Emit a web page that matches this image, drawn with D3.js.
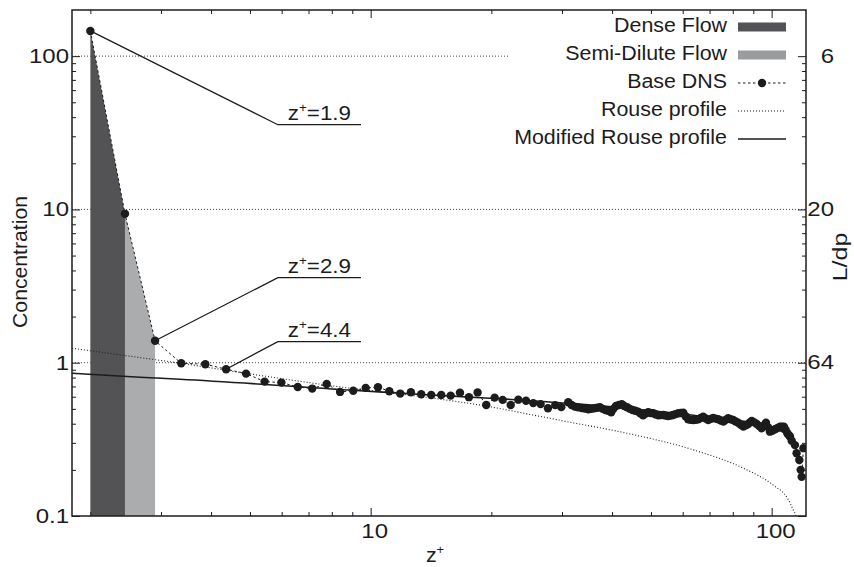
<!DOCTYPE html>
<html>
<head>
<meta charset="utf-8">
<script src="https://cdn.jsdelivr.net/npm/d3@7"></script>
<style>
  body { margin: 0; background: #fff; }
  svg { display: block; font-family: "Liberation Sans", Arial, sans-serif; }
</style>
</head>
<body>
<svg id="chart" width="854" height="567"></svg>
<script>
// Base DNS profile (z+, concentration)
const dnsZ = [2.0, 2.44, 2.9, 3.37, 3.87, 4.36, 4.89, 5.44, 5.99, 6.58, 7.15, 7.77, 8.39, 9.05, 9.72,
  10.43, 11.13, 11.85, 12.6, 13.37, 14.16, 15.0, 15.83, 16.7, 17.58, 18.48, 19.42, 20.38, 21.34, 22.35,
  23.35, 24.4, 25.44, 26.54, 27.68, 28.86, 29.88,
  31.1, 31.7, 32.3, 32.9, 33.6, 34.2, 34.9, 35.5, 36.1, 36.7, 37.3, 37.9, 38.5, 39.1, 39.8,
  40.3, 40.9, 41.6, 42.3, 42.9, 43.6, 44.3, 45.0, 45.7, 46.4, 47.1, 47.8, 48.5, 49.2, 49.9,
  50.7, 51.4, 52.2, 52.9, 53.7, 54.4, 55.2, 56.0, 56.8, 57.6, 58.5, 59.3, 60.2, 61.0, 61.9,
  62.8, 63.8, 64.7, 65.6, 66.5, 67.5, 68.5, 69.5, 70.5, 71.5, 72.5, 73.6, 74.7, 75.8, 76.8,
  77.9, 79.0, 80.2, 81.3, 82.5, 83.7, 85.0, 86.2, 87.4, 88.3, 89.2, 90.5, 91.8, 93.1, 94.4,
  95.6, 96.8, 97.9, 99.0, 100.4, 101.9, 103.4, 104.9, 106.1, 107.3, 108.3, 109.4, 110.3, 111.1, 112.2,
  114.3, 115.4, 117.2, 118.1, 118.8, 120.0]
const dnsC = [146, 9.36, 1.39, 0.992, 0.978, 0.907, 0.849, 0.753, 0.742, 0.695, 0.678, 0.727, 0.645, 0.657, 0.685,
  0.692, 0.652, 0.629, 0.642, 0.623, 0.616, 0.616, 0.61, 0.638, 0.596, 0.64, 0.53, 0.592, 0.572, 0.53,
  0.574, 0.565, 0.545, 0.537, 0.505, 0.529, 0.513,
  0.552, 0.53, 0.517, 0.512, 0.507, 0.503, 0.497, 0.5, 0.505, 0.508, 0.512, 0.5, 0.492, 0.485, 0.475,
  0.5, 0.522, 0.53, 0.536, 0.522, 0.512, 0.5, 0.492, 0.486, 0.48, 0.466, 0.454, 0.466, 0.475, 0.47,
  0.468, 0.46, 0.454, 0.455, 0.456, 0.452, 0.449, 0.452, 0.456, 0.462, 0.468, 0.47, 0.472, 0.448, 0.428,
  0.425, 0.423, 0.425, 0.428, 0.436, 0.445, 0.433, 0.423, 0.43, 0.436, 0.432, 0.428, 0.42, 0.413, 0.424,
  0.434, 0.428, 0.423, 0.414, 0.406, 0.394, 0.383, 0.39, 0.398, 0.408, 0.417, 0.408, 0.398, 0.386, 0.374,
  0.39, 0.406, 0.38, 0.355, 0.36, 0.368, 0.375, 0.383, 0.383, 0.383, 0.365, 0.347, 0.338, 0.33, 0.31,
  0.29, 0.257, 0.232, 0.2, 0.18, 0.277]

// Rouse profile
const rouseZ = [1.8, 2.66, 3.35, 5.0, 8.88, 14.3, 20.2, 25.4, 30.8, 43.5, 63.8, 85.0, 100.9, 109.5, 113.2, 115.0, 115.4]
const rouseC = [1.243, 1.08, 0.993, 0.845, 0.682, 0.587, 0.512, 0.456, 0.413, 0.347, 0.27, 0.205, 0.159, 0.1305, 0.1094, 0.099, 0.08]

// Modified Rouse profile
const modZ = [1.8, 2.66, 3.35, 9.4, 14.05, 19.84, 43.5, 70, 100, 110]
const modC = [0.854, 0.804, 0.78, 0.657, 0.616, 0.587, 0.505, 0.44, 0.38, 0.34]

// Flow regions: index ranges into the DNS profile
const denseIdx = [0, 1]
const semiIdx = [1, 2]

// Annotated DNS points
const annotIdx = [0, 2, 5]
const annotText = ['=1.9', '=2.9', '=4.4']
const annotElbowC = [35.7, 3.59, 1.373]
const annotElbowZ = 5.87
const annotEndZ = 9.46

// Axis ticks
const xMajor = [10, 100]
const xMinor = [2, 3, 4, 5, 6, 7, 8, 9, 20, 30, 40, 50, 60, 70, 80, 90]
const yMajor = [0.1, 1, 10, 100]
const yMinor = [0.2, 0.3, 0.4, 0.5, 0.6, 0.7, 0.8, 0.9, 2, 3, 4, 5, 6, 7, 8, 9, 20, 30, 40, 50, 60, 70, 80, 90]
const yLabels = ['0.1', '1', '10', '100']
const y2Labels = ['', '64', '20', '6'] // L/dp at the same heights

const legendLabels = ['Dense Flow', 'Semi-Dilute Flow', 'Base DNS', 'Rouse profile', 'Modified Rouse profile']

// Layout
const mLeft = 72, mRight = 806, mTop = 10, mBottom = 516
const SX = 1.07 // the source figure's text is slightly stretched horizontally
const SXNUM = 1.2
const FS = 20
const ink = '#1c1c1c'
const darkFill = '#535355'
const lightFill = '#abacae'

const svg = d3.select('#chart')

const x = d3.scaleLog().domain([1.8, 121.8]).range([mLeft, mRight])
const y = d3.scaleLog().domain([0.1, 200]).range([mBottom, mTop])

const dns = dnsZ.map((z, i) => ({ z, c: dnsC[i] }))
const rouse = rouseZ.map((z, i) => ({ z, c: rouseC[i] }))
const mod = modZ.map((z, i) => ({ z, c: modC[i] }))

function label(parent, px, py, s, anchor, sx) {
  return parent.append('text')
    .attr('transform', `translate(${px},${py}) scale(${sx || SX},1)`)
    .attr('text-anchor', anchor || 'middle')
    .attr('font-size', FS)
    .attr('fill', ink)
    .text(s)
}

svg.append('defs').append('clipPath').attr('id', 'plot')
  .append('rect').attr('x', mLeft).attr('y', mTop).attr('width', mRight - mLeft).attr('height', mBottom - mTop)

const plot = svg.append('g').attr('clip-path', 'url(#plot)')

// horizontal grid at the major y ticks
plot.selectAll('.grid')
  .data(yMajor.slice(1))
  .enter()
  .append('line')
  .attr('x1', mLeft).attr('x2', mRight)
  .attr('y1', d => y(d)).attr('y2', d => y(d))
  .attr('stroke', '#333').attr('stroke-width', 0.9).attr('stroke-dasharray', '1,2')

// flow region fills under the DNS line
const area = d3.area().x(d => x(d.z)).y0(y(0.1)).y1(d => y(d.c))
plot.append('path').datum(dns.slice(denseIdx[0], denseIdx[1] + 1))
  .attr('d', area).attr('fill', darkFill)
plot.append('path').datum(dns.slice(semiIdx[0], semiIdx[1] + 1))
  .attr('d', area).attr('fill', lightFill)

const line = d3.line().x(d => x(d.z)).y(d => y(d.c))
const smooth = d3.line().x(d => x(d.z)).y(d => y(d.c)).curve(d3.curveMonotoneX)

plot.append('path').datum(rouse).attr('d', smooth)
  .attr('fill', 'none').attr('stroke', '#222').attr('stroke-width', 1.1).attr('stroke-dasharray', '1,2')
plot.append('path').datum(mod).attr('d', smooth)
  .attr('fill', 'none').attr('stroke', ink).attr('stroke-width', 1.6)
plot.append('path').datum(dns).attr('d', line)
  .attr('fill', 'none').attr('stroke', ink).attr('stroke-width', 1).attr('stroke-dasharray', '2.5,2.5')

// annotation leader lines
const ex = x(annotElbowZ), ee = x(annotEndZ)
annotIdx.forEach((idx, i) => {
  const p = dns[idx]
  const ey = y(annotElbowC[i])
  svg.append('path')
    .attr('d', `M${x(p.z)},${y(p.c)}L${ex},${ey}L${ee},${ey}`)
    .attr('fill', 'none').attr('stroke', ink).attr('stroke-width', 1.3)
})

plot.selectAll('.pt')
  .data(dns)
  .enter()
  .append('circle')
  .attr('cx', d => x(d.z)).attr('cy', d => y(d.c))
  .attr('r', 4.2).attr('fill', ink)

annotIdx.forEach((idx, i) => {
  const t = label(svg, (ex + ee) / 2, y(annotElbowC[i]) - 5, '', 'middle', 1.12)
  t.append('tspan').text('z')
  t.append('tspan').attr('font-size', 12).attr('dy', -8).text('+')
  t.append('tspan').attr('dy', 8).text(annotText[i])
})

// legend
const lgLeft = 510, lgTextX = 727, lgS0 = 738, lgS1 = 786
svg.append('rect').attr('x', lgLeft).attr('y', mTop + 1).attr('width', mRight - lgLeft - 1).attr('height', 140).attr('fill', '#fff')
const lg = svg.append('g')
legendLabels.forEach((s, i) => {
  const base = 31.5 + i * 28
  const cy = base - 4.5
  label(lg, lgTextX, base, s, 'end')
  if (i === 0 || i === 1) {
    lg.append('rect').attr('x', lgS0).attr('y', cy - 4.5).attr('width', lgS1 - lgS0).attr('height', 9)
      .attr('fill', i === 0 ? darkFill : '#9a9b9d')
  } else {
    const l = lg.append('line').attr('x1', lgS0).attr('x2', lgS1).attr('y1', cy).attr('y2', cy).attr('stroke', ink)
    if (i === 2) {
      l.attr('stroke-width', 1).attr('stroke-dasharray', '2.5,2.5')
      lg.append('circle').attr('cx', (lgS0 + lgS1) / 2).attr('cy', cy).attr('r', 4.2).attr('fill', ink)
    } else if (i === 3) {
      l.attr('stroke-width', 1.1).attr('stroke-dasharray', '1,2').attr('stroke', '#222')
    } else {
      l.attr('stroke-width', 1.6)
    }
  }
})

// inward ticks on all four sides
function ticks(axis, vals, size, tr) {
  svg.append('g').attr('transform', tr)
    .call(axis.tickValues(vals).tickSize(size).tickSizeOuter(0).tickFormat(''))
    .call(g => g.select('.domain').remove())
    .call(g => g.selectAll('line').attr('stroke', ink))
}
ticks(d3.axisBottom(x), xMinor, -4, `translate(0,${mBottom})`)
ticks(d3.axisBottom(x), xMajor, -8, `translate(0,${mBottom})`)
ticks(d3.axisTop(x), xMinor, -4, `translate(0,${mTop})`)
ticks(d3.axisTop(x), xMajor, -8, `translate(0,${mTop})`)
ticks(d3.axisLeft(y), yMinor, -4, `translate(${mLeft},0)`)
ticks(d3.axisLeft(y), yMajor, -8, `translate(${mLeft},0)`)
ticks(d3.axisRight(y), yMinor, -4, `translate(${mRight},0)`)
ticks(d3.axisRight(y), yMajor, -8, `translate(${mRight},0)`)

svg.append('rect').attr('x', mLeft).attr('y', mTop).attr('width', mRight - mLeft).attr('height', mBottom - mTop)
  .attr('fill', 'none').attr('stroke', ink).attr('stroke-width', 1.5)

// tick labels
xMajor.forEach(v => label(svg, x(v) + 4, 538, String(v), 'middle', SXNUM))
yMajor.forEach((v, i) => label(svg, 69, y(v) + 7, yLabels[i], 'end', SXNUM))
yMajor.forEach((v, i) => { if (y2Labels[i]) label(svg, 834, y(v) + 6.5, y2Labels[i], 'end', SXNUM) })

// axis titles
const xt = label(svg, 435, 562, '', 'middle')
xt.append('tspan').text('z')
xt.append('tspan').attr('font-size', 12).attr('dy', -8).text('+')

svg.append('text').attr('transform', 'translate(27,262) rotate(-90) scale(1.06,1)')
  .attr('text-anchor', 'middle').attr('font-size', FS).attr('fill', ink).text('Concentration')
svg.append('text').attr('transform', 'translate(847,257) rotate(-90) scale(1.25,1)')
  .attr('text-anchor', 'middle').attr('font-size', FS).attr('fill', ink).text('L/dp')
</script>
</body>
</html>
